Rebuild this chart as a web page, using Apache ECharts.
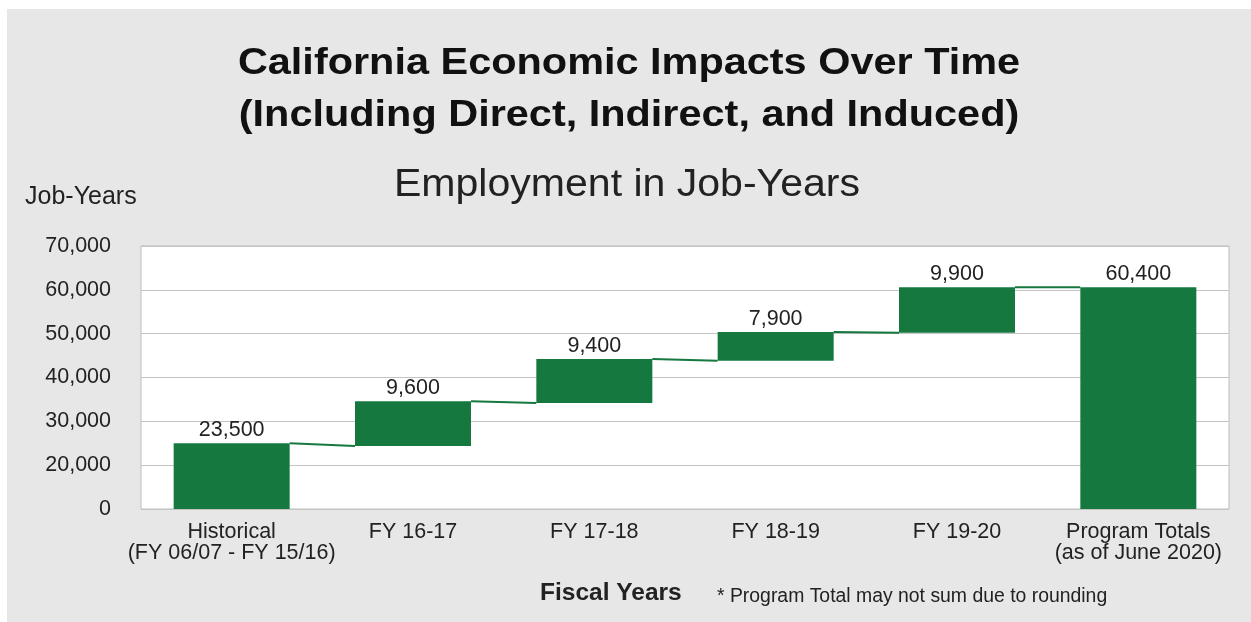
<!DOCTYPE html>
<html>
<head>
<meta charset="utf-8">
<title>California Economic Impacts Over Time</title>
<script src="https://cdn.jsdelivr.net/npm/echarts@6/dist/echarts.min.js"></script>
<style>
  html, body { margin: 0; padding: 0; background: #ffffff; }
  #chart { position: absolute; left: 7px; top: 9px; width: 1244px; height: 613px; background: #e7e7e8; }
</style>
</head>
<body>
<div id="chart"></div>
<script>
// fiscal year categories
const categories = [
    'Historical\n(FY 06/07 - FY 15/16)',
    'FY 16-17',
    'FY 17-18',
    'FY 18-19',
    'FY 19-20',
    'Program Totals\n(as of June 2020)'
];
// numbers printed above the bars
const labelValues = [23500, 9600, 9400, 7900, 9900, 60400];
// where each bar starts and ends on the axis, as drawn
const barBase = [0, 24400, 34200, 43800, 50200, 0];
const barTop = [25000, 34600, 44200, 50400, 60600, 60600];
// y ticks: the bottom gridline carries the label "0" in the source
const yTicks = [10000, 20000, 30000, 40000, 50000, 60000, 70000];
const yTickLabels = ['0', '20,000', '30,000', '40,000', '50,000', '60,000', '70,000'];

const green = '#15783f';
const textColor = '#222222';
const font = '"Liberation Sans", Arial, sans-serif';
const barWidth = 116;

const chart = echarts.init(document.getElementById('chart'), null, { renderer: 'canvas' });

// connector from the top of one bar to the bottom of the next
const connectors = [];
for (let i = 0; i < categories.length - 1; i++) {
    const next = i + 1 === categories.length - 1 ? barTop[i + 1] : barBase[i + 1];
    connectors.push([i, barTop[i], next]);
}

function renderConnector(params, api) {
    const i = api.value(0);
    const a = api.coord([i, api.value(1)]);
    const b = api.coord([i + 1, api.value(2)]);
    return {
        type: 'line',
        shape: { x1: a[0] + barWidth / 2, y1: a[1], x2: b[0] - barWidth / 2, y2: b[1] },
        style: { stroke: green, lineWidth: 2 }
    };
}

function textEl(text, x, y, size, weight, align, scaleX, color) {
    return {
        type: 'text',
        x: x,
        y: y,
        scaleX: scaleX || 1,
        style: {
            text: text,
            fontSize: size,
            fontWeight: weight,
            fontFamily: font,
            fill: color || textColor,
            align: align,
            textAlign: align,
            verticalAlign: 'middle',
            textVerticalAlign: 'middle'
        }
    };
}

var option = {
    backgroundColor: '#e7e7e8',
    animation: false,
    graphic: [
        textEl('California Economic Impacts Over Time', 622, 55, 37, 'bold', 'center', 1.12, '#111111'),
        textEl('(Including Direct, Indirect, and Induced)', 622, 107, 37, 'bold', 'center', 1.12, '#111111'),
        textEl('Employment in Job-Years', 620, 177, 38, 'normal', 'center', 1.08),
        textEl('Job-Years', 18, 188, 25, 'normal', 'left'),
        textEl('Fiscal Years', 533, 584, 24.5, 'bold', 'left'),
        textEl('* Program Total may not sum due to rounding', 710, 588, 19.4, 'normal', 'left')
    ],
    grid: {
        left: 134,
        top: 237,
        width: 1088,
        height: 263,
        show: true,
        backgroundColor: '#ffffff',
        borderColor: '#bdbdbd',
        borderWidth: 1
    },
    xAxis: {
        type: 'category',
        data: categories,
        axisLine: { show: false },
        axisTick: { show: false },
        axisLabel: {
            interval: 0,
            margin: 13,
            color: textColor,
            fontFamily: font,
            fontSize: 21.5,
            lineHeight: 21
        }
    },
    yAxis: {
        type: 'value',
        min: 10000,
        max: 70000,
        interval: 10000,
        axisLine: { show: false },
        axisTick: { show: false },
        splitLine: { lineStyle: { color: '#c4c4c4', width: 1 } },
        axisLabel: {
            margin: 30,
            color: textColor,
            fontFamily: font,
            fontSize: 21.5,
            formatter: function (v) {
                const k = yTicks.indexOf(v);
                return k >= 0 ? yTickLabels[k] : '';
            }
        }
    },
    series: [
        {
            name: 'base',
            type: 'bar',
            stack: 'fall',
            barWidth: barWidth,
            silent: true,
            itemStyle: { color: 'transparent' },
            data: barBase
        },
        {
            name: 'Job-Years',
            type: 'bar',
            stack: 'fall',
            barWidth: barWidth,
            itemStyle: { color: green },
            data: barTop.map(function (t, i) { return t - barBase[i]; }),
            label: {
                show: true,
                position: 'top',
                distance: 2,
                color: textColor,
                fontFamily: font,
                fontSize: 21.5,
                formatter: function (p) {
                    return labelValues[p.dataIndex].toLocaleString('en-US');
                }
            }
        },
        {
            name: 'connector',
            type: 'custom',
            silent: true,
            renderItem: renderConnector,
            encode: { x: 0, y: [1, 2] },
            data: connectors,
            z: 3
        }
    ]
};

chart.setOption(option);
</script>
</body>
</html>
